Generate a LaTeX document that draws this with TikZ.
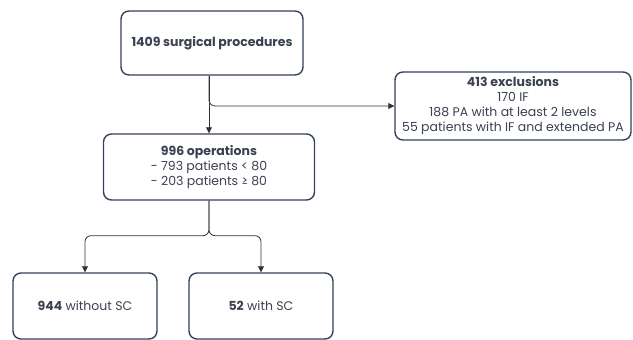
\documentclass[tikz,border=0pt]{standalone}
\usepackage{fontspec}
\setmainfont{Poppins}
\usepackage{xcolor}
\usetikzlibrary{arrows.meta, positioning, calc}

\definecolor{boxline}{HTML}{34425C}
\definecolor{boxtext}{HTML}{3B4150}

\begin{document}
\begin{tikzpicture}[
  x=1pt, y=-1pt,
  arrow/.style={-{Triangle[length=6pt, width=6pt]}, line width=0.8pt, draw=black!80, rounded corners=6pt},
  box/.style={draw=boxline, line width=1.4pt, rounded corners=8pt, fill=white, align=center, text=boxtext, font=\fontsize{12.5}{15}\selectfont}
]
  \useasboundingbox (0,0) rectangle (633,340);

  % Top: all procedures
  \node[box, minimum width=182pt, minimum height=64pt] (procs) at (212, 43) {\textbf{1409 surgical procedures}};

  % Exclusions
  \node[box, minimum width=236pt, minimum height=68pt, inner sep=1pt] (excl) at (513, 106) {
    \textbf{413 exclusions} \\
    170 IF \\
    188 PA with at least 2 levels \\
    55 patients with IF and extended PA
  };

  % Operations kept
  \node[box, minimum width=211pt, minimum height=66pt] (ops) at (209, 167) {
    \textbf{996 operations} \\
    - 793 patients < 80 \\
    - 203 patients \symbol{"2265} 80
  };

  % Bottom split
  \node[box, minimum width=144pt, minimum height=66pt] (nosc) at (85, 306) {\textbf{944} without SC};
  \node[box, minimum width=144pt, minimum height=66pt] (withsc) at (261, 306) {\textbf{52} with SC};

  % Connectors
  \coordinate (top) at (procs.south -| ops.north);
  \coordinate (split) at ($(ops.south)+(0,35)$);
  \draw[arrow] (top) -- (ops.north);
  \draw[arrow] (top) |- (excl.west);
  \draw[arrow] (ops.south) -- (split) -| (nosc.north);
  \draw[arrow] (ops.south) -- (split) -| (withsc.north);

\end{tikzpicture}
\end{document}
